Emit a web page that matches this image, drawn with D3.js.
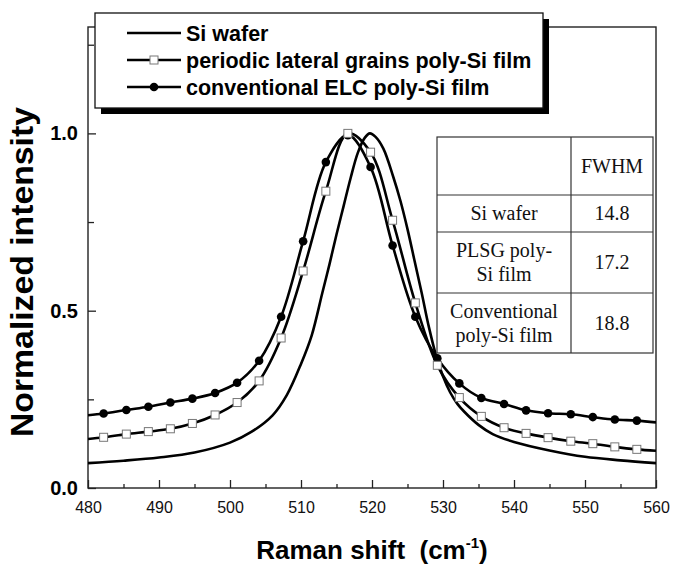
<!DOCTYPE html>
<html>
<head>
<meta charset="utf-8">
<style>
  body { margin: 0; background: #fff; }
  svg { display: block; }
  .tick line { stroke: #222; stroke-width: 1.3; }
</style>
</head>
<body>
<svg width="673" height="568"></svg>
<script src="https://d3js.org/d3.v7.min.js"></script>
<script>

// values: Raman shift (cm-1) and normalized intensity
var siX = [480, 485, 490, 495, 500, 503, 506, 508, 510, 511.5, 513, 514, 515, 516, 517, 518, 519, 519.7,
           520.5, 521.6, 523, 524, 525, 526, 527, 528, 529, 530, 531, 532, 533, 535, 537, 540, 545, 550, 555, 560];
var siY = [0.070, 0.077, 0.086, 0.100, 0.128, 0.158, 0.205, 0.262, 0.350, 0.430, 0.550, 0.630, 0.715, 0.795, 0.875, 0.945, 0.988, 1.0,
           0.990, 0.957, 0.877, 0.810, 0.730, 0.640, 0.550, 0.455, 0.375, 0.315, 0.270, 0.238, 0.215, 0.178, 0.152, 0.130, 0.106, 0.088, 0.078, 0.070];

var plsgX = [480, 482.2, 485.4, 488.5, 491.6, 494.7, 497.9, 501.0, 504.1, 507.2, 510.3, 513.5, 516.6,
             519.8, 522.9, 526.1, 529.2, 532.3, 535.4, 538.6, 541.7, 544.8, 548.0, 551.1, 554.2, 557.3, 560];
var plsgY = [0.138, 0.143, 0.152, 0.159, 0.167, 0.182, 0.206, 0.241, 0.302, 0.423, 0.612, 0.837, 1.0,
             0.947, 0.755, 0.522, 0.346, 0.255, 0.202, 0.170, 0.154, 0.142, 0.132, 0.125, 0.116, 0.109, 0.105];

var elcX = [480, 482.2, 485.4, 488.5, 491.6, 494.7, 497.9, 501.0, 504.1, 507.2, 510.3, 513.5, 516.6,
            519.8, 522.9, 526.1, 529.2, 532.3, 535.4, 538.6, 541.7, 544.8, 548.0, 551.1, 554.2, 557.3, 560];
var elcY = [0.205, 0.210, 0.220, 0.229, 0.241, 0.252, 0.268, 0.297, 0.359, 0.483, 0.696, 0.919, 0.995,
            0.905, 0.684, 0.483, 0.366, 0.295, 0.254, 0.237, 0.219, 0.211, 0.208, 0.200, 0.193, 0.190, 0.185];

var xMajor = [480, 490, 500, 510, 520, 530, 540, 550, 560];
var xMinor = [485, 495, 505, 515, 525, 535, 545, 555];
var yMajor = [0, 0.5, 1.0];
var yMinor = [0.25, 0.75, 1.25];

var legendNames = ["Si wafer", "periodic lateral grains poly-Si film", "conventional ELC poly-Si film"];
var tableHead = ["", "FWHM"];
var tableNames = [["Si wafer"], ["PLSG poly-", "Si film"], ["Conventional", "poly-Si film"]];
var tableFwhm = ["14.8", "17.2", "18.8"];

var svg = d3.select("svg"),
    width = +svg.attr("width"),
    height = +svg.attr("height");

var sans = "'Liberation Sans', Arial, sans-serif",
    serif = "'Liberation Serif', 'Times New Roman', serif";

var x = d3.scaleLinear().domain([480, 560]).range([88, 656]),
    y = d3.scaleLinear().domain([0, 1.3]).range([488, 27]);

function pairs(xs, ys) {
  return xs.map(function(v, i) { return [v, ys[i]]; });
}

var series = [
  {name: legendNames[0], data: pairs(siX, siY), marker: "none"},
  {name: legendNames[2], data: pairs(elcX, elcY), marker: "circle"},
  {name: legendNames[1], data: pairs(plsgX, plsgY), marker: "square"}
];

svg.append("defs").append("clipPath").attr("id", "plot")
  .append("rect")
  .attr("x", x(480)).attr("y", y(1.3))
  .attr("width", x(560) - x(480)).attr("height", y(0) - y(1.3));

// frame
svg.append("rect")
  .attr("x", x(480)).attr("y", y(1.3))
  .attr("width", x(560) - x(480)).attr("height", y(0) - y(1.3))
  .attr("fill", "none").attr("stroke", "#222").attr("stroke-width", 1.4);

var line = d3.line()
  .x(function(d) { return x(d[0]); })
  .y(function(d) { return y(d[1]); })
  .curve(d3.curveCatmullRom.alpha(0.5));

function drawMarker(g, type, cx, cy) {
  if (type == "circle") {
    g.append("circle").attr("cx", cx).attr("cy", cy).attr("r", 4.3).attr("fill", "#000");
  } else if (type == "square") {
    g.append("rect").attr("x", cx - 4).attr("y", cy - 4).attr("width", 8).attr("height", 8)
      .attr("fill", "#fff").attr("stroke", "#777").attr("stroke-width", 1);
  }
}

var plot = svg.append("g").attr("clip-path", "url(#plot)");
series.forEach(function(s) {
  plot.append("path").datum(s.data)
    .attr("d", line)
    .attr("fill", "none").attr("stroke", "#000").attr("stroke-width", 2.6);
  s.data.forEach(function(d) {
    if (d[0] > 480 && d[0] < 560) drawMarker(plot, s.marker, x(d[0]), y(d[1]));
  });
});

// axes, ticks pointing inward
var gx = svg.append("g").attr("transform", "translate(0," + y(0) + ")")
  .call(d3.axisBottom(x).tickValues(xMajor).tickSize(-8).tickPadding(14).tickFormat(d3.format("d")));
gx.select(".domain").remove();
gx.selectAll("text").attr("font-family", sans).attr("font-size", 16).attr("fill", "#111");

var gx2 = svg.append("g").attr("transform", "translate(0," + y(0) + ")")
  .call(d3.axisBottom(x).tickValues(xMinor).tickSize(-4).tickFormat(""));
gx2.select(".domain").remove();

var gy = svg.append("g").attr("transform", "translate(" + x(480) + ",0)")
  .call(d3.axisLeft(y).tickValues(yMajor).tickSize(-8).tickPadding(10).tickFormat(d3.format(".1f")));
gy.select(".domain").remove();
gy.selectAll("text").attr("font-family", sans).attr("font-size", 20).attr("font-weight", "bold").attr("fill", "#000");

var gy2 = svg.append("g").attr("transform", "translate(" + x(480) + ",0)")
  .call(d3.axisLeft(y).tickValues(yMinor).tickSize(-6).tickFormat(""));
gy2.select(".domain").remove();

// axis titles
svg.append("text")
  .attr("transform", "translate(33,272) rotate(-90)")
  .attr("text-anchor", "middle")
  .attr("font-family", sans).attr("font-size", 31).attr("font-weight", "bold")
  .attr("textLength", 330).attr("lengthAdjust", "spacingAndGlyphs")
  .text("Normalized intensity");

var xt = svg.append("text")
  .attr("x", 372).attr("y", 559)
  .attr("text-anchor", "middle")
  .attr("font-family", sans).attr("font-size", 26).attr("font-weight", "bold")
  .style("white-space", "pre");
xt.append("tspan").text("Raman shift  (cm");
xt.append("tspan").attr("font-size", 15).attr("dy", -11).text("-1");
xt.append("tspan").attr("dy", 11).text(")");

// FWHM table
var tbl = {x0: 437, x1: 571, x2: 653, rows: [137, 195, 232, 293, 353]};
var tg = svg.append("g");
tg.append("rect")
  .attr("x", tbl.x0).attr("y", tbl.rows[0])
  .attr("width", tbl.x2 - tbl.x0).attr("height", tbl.rows[4] - tbl.rows[0])
  .attr("fill", "#fff").attr("stroke", "#333").attr("stroke-width", 1.2);
tbl.rows.slice(1, 4).forEach(function(r) {
  tg.append("line").attr("x1", tbl.x0).attr("x2", tbl.x2).attr("y1", r).attr("y2", r)
    .attr("stroke", "#333").attr("stroke-width", 1.2);
});
tg.append("line").attr("x1", tbl.x1).attr("x2", tbl.x1).attr("y1", tbl.rows[0]).attr("y2", tbl.rows[4])
  .attr("stroke", "#333").attr("stroke-width", 1.2);

function cellText(lines, cx, top, bottom) {
  var mid = (top + bottom) / 2, gap = 24;
  lines.forEach(function(t, i) {
    tg.append("text")
      .attr("x", cx).attr("y", mid + 6.5 + (i - (lines.length - 1) / 2) * gap)
      .attr("text-anchor", "middle")
      .attr("font-family", serif).attr("font-size", 20).attr("fill", "#111")
      .text(t);
  });
}
var c1 = (tbl.x0 + tbl.x1) / 2, c2 = (tbl.x1 + tbl.x2) / 2;
cellText([tableHead[1]], c2, tbl.rows[0], tbl.rows[1]);
tableNames.forEach(function(n, i) {
  cellText(n, c1, tbl.rows[i + 1], tbl.rows[i + 2]);
  cellText([tableFwhm[i]], c2, tbl.rows[i + 1], tbl.rows[i + 2]);
});

// legend with drop shadow
var lg = svg.append("g");
lg.append("rect").attr("x", 101).attr("y", 19).attr("width", 448).attr("height", 95).attr("fill", "#000");
lg.append("rect").attr("x", 95).attr("y", 13).attr("width", 448).attr("height", 95)
  .attr("fill", "#fff").attr("stroke", "#111").attr("stroke-width", 1.3);

var legendItems = [
  {name: legendNames[0], marker: "none"},
  {name: legendNames[1], marker: "square"},
  {name: legendNames[2], marker: "circle"}
];
legendItems.forEach(function(d, i) {
  var ly = 33 + i * 27;
  lg.append("line").attr("x1", 127).attr("x2", 181).attr("y1", ly).attr("y2", ly)
    .attr("stroke", "#000").attr("stroke-width", 2.6);
  drawMarker(lg, d.marker, 154, ly);
  lg.append("text")
    .attr("x", 186).attr("y", ly + 7.5)
    .attr("font-family", sans).attr("font-size", 21.5).attr("font-weight", "bold")
    .text(d.name);
});

</script>
</body>
</html>
